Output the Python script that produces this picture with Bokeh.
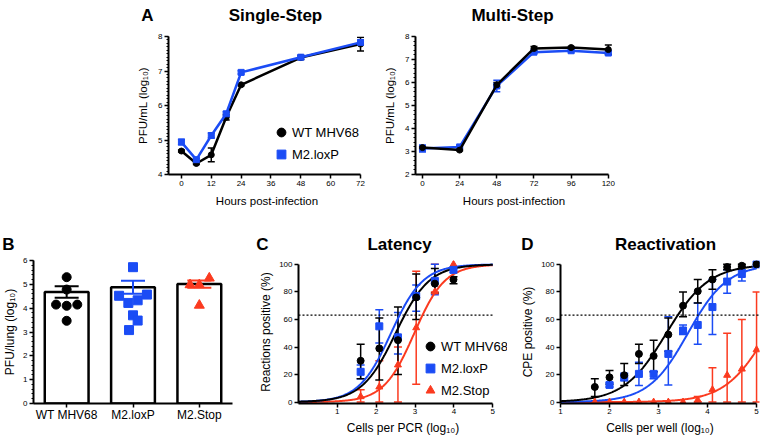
import numpy as np
from bokeh.plotting import figure
from bokeh.layouts import row, column
from bokeh.models import (Range1d, FixedTicker, Whisker, TeeHead, ColumnDataSource,
                          Legend, LegendItem, Span)
from bokeh.core.properties import value
from bokeh.embed import file_html
from bokeh.resources import INLINE

FONT = "Liberation Sans"
BLACK = "#000000"
BLUE = "#1b4cf5"
RED = "#fb3a1f"

# ---------------- data ----------------
# Panel A, single-step growth
ss_hours = [0, 6, 12, 18, 24, 48, 72]
ss_wt = [4.68, 4.32, 4.57, 5.66, 6.60, 7.39, 7.78]
ss_wt_err = [0.03, 0.03, 0.20, 0.08, 0.03, 0.06, 0.20]
ss_lox = [4.94, 4.43, 5.13, 5.76, 6.96, 7.40, 7.83]
ss_lox_err = [0.08, 0.03, 0.07, 0.06, 0.05, 0.05, 0.07]

# Panel A, multi-step growth
ms_hours = [0, 24, 48, 72, 96, 120]
ms_wt = [3.17, 3.06, 5.90, 7.48, 7.52, 7.43]
ms_wt_err = [0.05, 0.03, 0.10, 0.08, 0.05, 0.20]
ms_lox = [3.13, 3.20, 5.85, 7.32, 7.38, 7.28]
ms_lox_err = [0.15, 0.04, 0.25, 0.05, 0.04, 0.07]

# Panel B, lung titres
groups = ["WT MHV68", "M2.loxP", "M2.Stop"]
lung_mean = [4.68, 4.88, 5.01]
lung_sem = [0.24, 0.27, 0.15]
lung_wt = [5.30, 4.78, 4.15, 4.10, 4.15, 3.47]
lung_wt_dx = [0.0, 0.0, -0.16, 0.0, 0.16, 0.0]
lung_lox = [5.72, 4.52, 4.57, 4.33, 4.22, 3.70, 3.48, 3.08]
lung_lox_dx = [0.0, -0.21, 0.21, 0.07, -0.07, 0.0, 0.07, -0.06]
lung_stop = [5.26, 4.98, 4.98, 4.12]
lung_stop_dx = [0.15, -0.14, 0.0, 0.0]

# Panel C, latency (limiting dilution PCR)
pcr_cells = [1.60, 2.08, 2.56, 3.03, 3.51, 3.99]
lat_wt = [30, 39, 45, 76, 86, 89]
lat_wt_hi = [42, 61, 69, 93, 97, 91]
lat_wt_lo = [17, 16, 20, 60, 79, 86]
lat_lox = [22, 55, 47, 77, 88, 96]
lat_lox_hi = [27, 67, 65, 85, 100, 98]
lat_lox_lo = [17, 43, 35, 66, 78, 94]
lat_stop = [4, 11, 27, 54, 80, 100]
lat_stop_hi = [9, 30, 40, 95, 100, 100]
lat_stop_lo = [0, 0, 0, 13, 80, 100]
lat_fit_wt = (2.50, 1.00)     # (log10 EC50, slope)
lat_fit_lox = (2.38, 1.05)
lat_fit_stop = (2.98, 1.10)

# Panel D, reactivation
well_cells = [1.7, 2.0, 2.3, 2.6, 2.9, 3.2, 3.5, 3.8, 4.1, 4.4, 4.7, 5.0]
rea_wt = [11, 18, 19.5, 35, 33.5, 49, 70, 80.5, 89, 98, 99, 100]
rea_wt_hi = [17, 23, 28, 42, 45, 61, 80, 89, 96, 100, 100, 100]
rea_wt_lo = [4, 13, 12, 28, 22, 37, 62, 72, 82, 96, 98, 100]
well_cells_lox = [2.0, 2.3, 2.6, 2.9, 3.2, 3.5, 3.8, 4.1, 4.4, 4.7, 5.0]
rea_lox = [12.5, 18, 20.5, 20.5, 35, 52, 56, 69, 87.5, 93, 100]
rea_lox_hi = [14, 21, 29, 22, 62, 56, 72, 89, 96, 96, 100]
rea_lox_lo = [11, 15.5, 12, 17, 12.5, 49, 42, 49, 79, 88, 100]
rea_stop = [0, 0, 0, 0, 0, 0, 0, 1.5, 9, 19.5, 24, 38]
rea_stop_hi = [0, 0, 0, 0, 0, 0, 0, 4, 25, 50, 60, 80]
rea_stop_lo = [0, 0, 0, 0, 0, 0, 0, 0, 0, 0, 0, 0]
rea_fit_wt = (3.16, 1.00)
rea_fit_lox = (3.60, 1.08)
rea_fit_stop = (5.22, 1.00)

# Panel letters and titles
top_headings = ["A", "Single-Step", "Multi-Step"]
bottom_headings = ["B", "C", "Latency", "D", "Reactivation"]


# ---------------- helpers ----------------
def logistic(x, fit):
    ec50, slope = fit
    return 100.0 / (1.0 + 10.0 ** ((ec50 - x) * slope))


def make_fig(box, frame, xr, yr):
    bx0, by0, bx1, by1 = box
    fx0, fy0, fx1, fy1 = frame
    p = figure(width=bx1 - bx0, height=by1 - by0,
               x_range=Range1d(start=xr[0], end=xr[1]),
               y_range=Range1d(start=yr[0], end=yr[1]),
               min_border_left=fx0 - bx0, min_border_right=bx1 - fx1,
               min_border_top=fy0 - by0, min_border_bottom=by1 - fy1,
               output_backend="svg", toolbar_location=None, title=None)
    p.grid.visible = False
    p.outline_line_color = None
    for ax in p.axis:
        ax.axis_line_width = 2
        ax.axis_line_color = BLACK
        ax.major_tick_line_width = 1.5
        ax.major_tick_line_color = BLACK
        ax.major_tick_out = 4
        ax.major_tick_in = 0
        ax.minor_tick_out = 2
        ax.minor_tick_in = 0
        ax.minor_tick_line_width = 1
        ax.minor_tick_line_color = BLACK
        ax.major_label_text_font = FONT
        ax.major_label_text_font_size = "8px"
        ax.major_label_text_color = BLACK
        ax.major_label_standoff = 2
        ax.axis_label_text_font = FONT
        ax.axis_label_text_font_size = "12px"
        ax.axis_label_text_font_style = "normal"
        ax.axis_label_text_color = BLACK
        ax.axis_label_standoff = 3
    return p


def heading_strip(height, texts, xs, baseline):
    s = figure(width=760, height=height, x_range=Range1d(start=0, end=760),
               y_range=Range1d(start=height, end=0), min_border=0,
               x_axis_type=None, y_axis_type=None,
               output_backend="svg", toolbar_location=None, title=None)
    s.grid.visible = False
    s.outline_line_color = None
    s.text(x=xs, y=[baseline] * len(texts), text=texts,
           text_font=value(FONT), text_font_size=value("17px"),
           text_font_style=value("bold"), text_align=value("center"),
           text_baseline=value("alphabetic"), text_color=BLACK)
    return s


def add_err(p, xs, lo, hi, color, cap, lw=1.5, level="underlay"):
    keep = [i for i in range(len(xs)) if hi[i] > lo[i]]
    src = ColumnDataSource(dict(base=[xs[i] for i in keep],
                                lower=[lo[i] for i in keep],
                                upper=[hi[i] for i in keep]))
    w = Whisker(source=src, base="base", lower="lower", upper="upper",
                dimension="height", line_color=color, line_width=lw, level=level,
                upper_head=TeeHead(size=cap, line_color=color, line_width=lw),
                lower_head=TeeHead(size=cap, line_color=color, line_width=lw))
    p.add_layout(w)


def add_legend(p, items, loc, glyph=22, size="13px"):
    lg = Legend(items=items, location=loc, glyph_width=glyph, glyph_height=glyph,
                spacing=0, label_standoff=0, padding=0, margin=0,
                border_line_color=None, background_fill_alpha=0,
                label_text_font=FONT, label_text_font_size=size,
                label_text_color=BLACK)
    p.add_layout(lg)


# ---------------- headings ----------------
top_strip = heading_strip(26, top_headings, [147, 275, 512], 15)
bottom_strip = heading_strip(33, bottom_headings, [8, 262, 399, 527, 665], 23)

# ---------------- Panel A: single-step ----------------
a1 = make_fig((0, 26, 380, 221), (168, 36, 365, 174), (-5.2, 74.0), (4.0, 8.0))
a1.xaxis.ticker = FixedTicker(ticks=[0, 12, 24, 36, 48, 60, 72])
a1.xaxis.bounds = (-5.2, 72)
a1.yaxis.ticker = FixedTicker(ticks=[4, 5, 6, 7, 8],
                              minor_ticks=list(np.round(np.arange(4, 8.001, 0.1), 2)))
a1.xaxis.axis_label = "Hours post-infection"
a1.yaxis.axis_label = "PFU/mL (log₁₀)"
for ax in a1.axis:
    ax.axis_label_text_font_size = "11.5px"
    ax.axis_label_standoff = 6
add_err(a1, ss_hours, [m - e for m, e in zip(ss_wt, ss_wt_err)],
        [m + e for m, e in zip(ss_wt, ss_wt_err)], BLACK, 7)
add_err(a1, ss_hours, [m - e for m, e in zip(ss_lox, ss_lox_err)],
        [m + e for m, e in zip(ss_lox, ss_lox_err)], BLUE, 7)
a1.line(ss_hours, ss_wt, line_color=BLACK, line_width=2.5)
r_a1_wt = a1.scatter(ss_hours, ss_wt, marker="circle", size=6, color=BLACK)
a1.line(ss_hours, ss_lox, line_color=BLUE, line_width=2.5)
r_a1_lox = a1.scatter(ss_hours, ss_lox, marker="square", size=6, color=BLUE)
add_legend(a1, [LegendItem(label="WT MHV68", renderers=[r_a1_wt]),
                LegendItem(label="M2.loxP", renderers=[r_a1_lox])], (102, 9))

# ---------------- Panel A: multi-step ----------------
a2 = make_fig((380, 26, 760, 221), (415, 36, 612, 174), (-4.5, 122.7), (2.0, 8.0))
a2.xaxis.ticker = FixedTicker(ticks=[0, 24, 48, 72, 96, 120])
a2.xaxis.bounds = (-4.5, 120)
a2.yaxis.ticker = FixedTicker(ticks=[2, 3, 4, 5, 6, 7, 8],
                              minor_ticks=list(np.round(np.arange(2, 8.001, 0.2), 2)))
a2.xaxis.axis_label = "Hours post-infection"
a2.yaxis.axis_label = "PFU/mL (log₁₀)"
for ax in a2.axis:
    ax.axis_label_text_font_size = "11.5px"
    ax.axis_label_standoff = 6
add_err(a2, ms_hours, [m - e for m, e in zip(ms_lox, ms_lox_err)],
        [m + e for m, e in zip(ms_lox, ms_lox_err)], BLUE, 7)
add_err(a2, ms_hours, [m - e for m, e in zip(ms_wt, ms_wt_err)],
        [m + e for m, e in zip(ms_wt, ms_wt_err)], BLACK, 7)
a2.line(ms_hours, ms_lox, line_color=BLUE, line_width=2.5)
a2.scatter(ms_hours, ms_lox, marker="square", size=6, color=BLUE)
a2.line(ms_hours, ms_wt, line_color=BLACK, line_width=2.5)
a2.scatter(ms_hours, ms_wt, marker="circle", size=6, color=BLACK)

# ---------------- Panel B ----------------
b = make_fig((0, 254, 256, 443), (31, 259, 232, 403), (0, 3), (0, 6))
centers = [i + 0.5 for i in range(len(groups))]
b.xaxis.ticker = FixedTicker(ticks=centers)
b.xaxis.major_label_overrides = {c: g for c, g in zip(centers, groups)}
b.xaxis.major_label_text_font_size = "12px"
b.xaxis.major_label_standoff = 0
b.yaxis.ticker = FixedTicker(ticks=[0, 1, 2, 3, 4, 5, 6],
                             minor_ticks=list(np.round(np.arange(0, 6.001, 0.2), 2)))
b.yaxis.axis_label = "PFU/lung (log₁₀)"
b.yaxis.axis_label_standoff = 3
b.vbar(x=centers, top=lung_mean, bottom=0, width=0.66, fill_color="white",
       line_color=BLACK, line_width=2.5)
colors = [BLACK, BLUE, RED]
for cx, m, s, col in zip(centers, lung_mean, lung_sem, colors):
    add_err(b, [cx], [m - s], [m + s], col, 24, lw=2, level="annotation")
b.scatter([centers[0] + d for d in lung_wt_dx], lung_wt, marker="circle", size=9, color=BLACK)
b.scatter([centers[1] + d for d in lung_lox_dx], lung_lox, marker="square", size=9, color=BLUE)
b.scatter([centers[2] + d for d in lung_stop_dx], lung_stop, marker="triangle", size=10, color=RED)

# ---------------- Panel C ----------------
c = make_fig((256, 254, 518, 443), (294, 260, 507, 407), (0, 5.38), (-1, 102.8))
c.xaxis.ticker = FixedTicker(ticks=[1, 2, 3, 4, 5])
c.xaxis.bounds = (0, 5)
c.yaxis.bounds = (-1, 100)
c.yaxis.ticker = FixedTicker(ticks=[0, 20, 40, 60, 80, 100])
c.xaxis.axis_label = "Cells per PCR (log₁₀)"
c.yaxis.axis_label = "Reactions positive (%)"
c.xaxis.major_label_standoff = 1
c.xaxis.axis_label_standoff = 4
xs_c = np.linspace(0, 5, 300)
c.line([0, 5], [63.2, 63.2], line_color=BLACK, line_width=1.2, line_dash="2 2")
add_err(c, pcr_cells, lat_stop_lo, lat_stop_hi, RED, 8)
add_err(c, pcr_cells, lat_lox_lo, lat_lox_hi, BLUE, 8)
add_err(c, pcr_cells, lat_wt_lo, lat_wt_hi, BLACK, 8)
c.line(xs_c, logistic(xs_c, lat_fit_stop), line_color=RED, line_width=2)
c.line(xs_c, logistic(xs_c, lat_fit_lox), line_color=BLUE, line_width=2)
c.line(xs_c, logistic(xs_c, lat_fit_wt), line_color=BLACK, line_width=2)
r_c_stop = c.scatter(pcr_cells, lat_stop, marker="triangle", size=7, color=RED)
r_c_lox = c.scatter(pcr_cells, lat_lox, marker="square", size=7, color=BLUE)
r_c_wt = c.scatter(pcr_cells, lat_wt, marker="circle", size=7, color=BLACK)
add_legend(c, [LegendItem(label="WT MHV68", renderers=[r_c_wt]),
               LegendItem(label="M2.loxP", renderers=[r_c_lox]),
               LegendItem(label="M2.Stop", renderers=[r_c_stop])], (121, 2))

# ---------------- Panel D ----------------
d = make_fig((518, 254, 760, 443), (558, 260, 759, 407), (1, 5.06), (-1, 102.8))
d.xaxis.ticker = FixedTicker(ticks=[1, 2, 3, 4, 5])
d.xaxis.bounds = (1, 5)
d.yaxis.bounds = (-1, 100)
d.yaxis.ticker = FixedTicker(ticks=[0, 20, 40, 60, 80, 100])
d.xaxis.axis_label = "Cells per well (log₁₀)"
d.yaxis.axis_label = "CPE positive (%)"
d.xaxis.major_label_standoff = 1
d.xaxis.axis_label_standoff = 4
d.add_layout(Span(location=63.2, dimension="width", line_color=BLACK,
                  line_width=1.2, line_dash="2 2"))
xs_d = np.linspace(1, 5, 300)
add_err(d, well_cells, rea_stop_lo, rea_stop_hi, RED, 8)
add_err(d, well_cells_lox, rea_lox_lo, rea_lox_hi, BLUE, 8)
add_err(d, well_cells, rea_wt_lo, rea_wt_hi, BLACK, 8)
d.line(xs_d, logistic(xs_d, rea_fit_stop), line_color=RED, line_width=2)
d.line(xs_d, logistic(xs_d, rea_fit_lox), line_color=BLUE, line_width=2)
d.line(xs_d, logistic(xs_d, rea_fit_wt), line_color=BLACK, line_width=2)
d.scatter(well_cells, rea_stop, marker="triangle", size=7, color=RED)
d.scatter(well_cells_lox, rea_lox, marker="square", size=7, color=BLUE)
d.scatter(well_cells, rea_wt, marker="circle", size=7, color=BLACK)

layout = column(top_strip, row(a1, a2), bottom_strip, row(b, c, d))

open("out.html", "w").write(file_html(layout, INLINE))
